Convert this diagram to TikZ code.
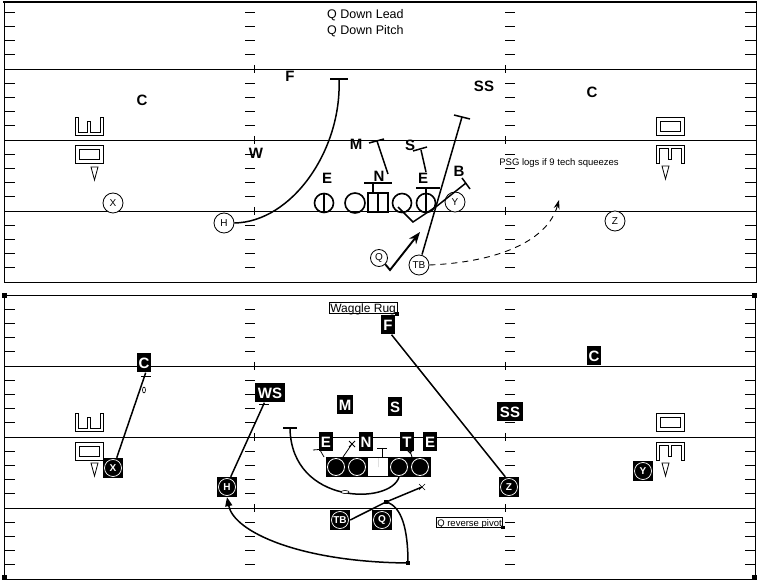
\documentclass[tikz,border=0pt]{standalone}
\usepackage{fontspec}
\setmainfont{Liberation Sans}
\usetikzlibrary{arrows.meta}
\newcommand\icU[2]{\draw[icn,shift={(#1,#2)}] (0,0)--(0,18)--(28,18)--(28,0)--(25,0)--(25,15)--(15.5,15)--(15.5,4)--(12.5,4)--(12.5,15)--(3,15)--(3,0)--cycle;}
\newcommand\icN[2]{\draw[icn,shift={(#1,#2)}] (0,18)--(0,0)--(28,0)--(28,18)--(25,18)--(25,3)--(15.5,3)--(15.5,14)--(12.5,14)--(12.5,3)--(3,3)--(3,18)--cycle;}
\newcommand\icR[2]{\draw[icn,shift={(#1,#2)}] (0,0) rectangle (28,18) (4,4) rectangle (24,14);}
\newcommand\icT[2]{\draw[icn,shift={(#1,#2)}] (0,0)--(7,0)--(3.5,13)--cycle;}
\newcommand\offb[3]{\node[sqb] (#1) at (#2) {}; \node[cirb] at (#2) {#3};}
\begin{document}
\begin{tikzpicture}[x=1pt,y=-1pt,
  fl/.style={line width=0.8pt},
  rt/.style={line width=1.5pt},
  icn/.style={line width=0.8pt},
  dt/.style={font=\fontsize{15}{15}\selectfont\bfseries, inner sep=0pt},
  oc/.style={circle, draw, line width=0.8pt, fill=white, minimum size=20pt, inner sep=0pt, font=\fontsize{10}{10}\selectfont},
  olc/.style={circle, draw, line width=1.6pt, minimum size=19pt, inner sep=0pt},
  db/.style={fill=black, text=white, font=\fontsize{15}{15}\selectfont\bfseries, inner xsep=2pt, inner ysep=0pt, minimum height=19pt},
  sqb/.style={fill=black, minimum size=20pt, inner sep=0pt},
  cirb/.style={circle, draw=white, line width=0.7pt, minimum size=17pt, inner sep=0pt, text=white, font=\fontsize{10}{10}\selectfont\bfseries},
  hb/.style={fill=black, minimum size=5pt, inner sep=0pt},
  tbox/.style={draw, fill=white, line width=0.6pt, inner sep=1pt}
]
\useasboundingbox (0,0) rectangle (761,585);
% ---------- fields ----------
\foreach \T in {-2,295} {
  \foreach \k in {1,2,3} {
    \draw[fl] (4,{\T+71*\k}) -- (756,{\T+71*\k});
    \draw[fl] (254,{\T+71*\k-4}) -- (254,{\T+71*\k+4});
    \draw[fl] (505,{\T+71*\k-4}) -- (505,{\T+71*\k+4});
  }
  \foreach \k in {1,2,3,4,6,7,8,9,11,12,13,14,16,17,18,19} {
    \draw[fl] (4,{\T+14.2*\k}) -- (15,{\T+14.2*\k})
              (245,{\T+14.2*\k}) -- (255,{\T+14.2*\k})
              (505,{\T+14.2*\k}) -- (515,{\T+14.2*\k})
              (745,{\T+14.2*\k}) -- (756,{\T+14.2*\k});
  }
}
\draw[line width=2pt] (3,2) -- (757,2);
\draw[fl] (4,2) -- (4,282) -- (756,282) -- (756,2);
\draw[fl] (4,295) rectangle (755,579);
\node[hb] (hA) at (4.5,295.5) {};
\node[hb] (hB) at (754.5,295.5) {};
\node[hb] (hC) at (4.5,577.5) {};
\node[hb] (hD) at (754.5,577.5) {};
% ---------- icons ----------
\icU{75}{117} \icR{75}{145} \icT{91}{167}
\icR{656}{117} \icN{656}{145} \icT{662}{166}
\icU{75}{413} \icR{75}{442} \icT{91}{463}
\icR{656}{413} \icN{656}{442} \icT{662}{463}
% ---------- top panel ----------
\node[anchor=north west, align=left, font=\fontsize{12.5}{16}\selectfont, inner sep=0pt] (title) at (327,9.5) {Q Down Lead\\Q Down Pitch};
\node[font=\fontsize{9.5}{9.5}\selectfont, inner sep=0pt] (psg) at (559,163) {PSG logs if 9 tech squeezes};
\node[dt] (tF) at (290,76) {F};
\node[dt] (tC1) at (142,100) {C};
\node[dt] (tW) at (256,153) {W};
\node[dt] (tE1) at (327,178) {E};
\node[dt] (tM) at (356,144) {M};
\node[dt] (tN) at (379,176) {N};
\node[dt] (tS) at (410,145) {S};
\node[dt] (tE2) at (423,178) {E};
\node[dt] (tB) at (459,171) {B};
\node[dt] (tSS) at (484,86) {SS};
\node[dt] (tC2) at (592,92) {C};
% offensive line
\node[olc] (tOL1) at (324,203) {};
\draw[line width=1.6pt] (tOL1.north) -- (tOL1.south);
\node[olc, minimum size=20pt] (tOL2) at (355,203) {};
\node[draw, line width=1.6pt, minimum width=20pt, minimum height=19pt, inner sep=0pt] (tOC) at (378,202.5) {};
\draw[line width=1.6pt] (tOC.north) -- (tOC.south);
\draw[rt] (364,183) -- (392,183) (373,183) -- (tOC.north -| 373,0);
\node[olc] (tOL4) at (402,203) {};
\node[olc] (tOL5) at (426,203) {};
\draw[line width=1.6pt] (tOL5.north) -- (tOL5.south);
\draw[rt] (416,188) -- (440,188) (426,188) -- (tOL5.north);
% backs
\node[oc] (tX) at (113,203) {X};
\node[oc] (tH) at (224,223) {H};
\node[oc, minimum size=17pt] (tQ) at (379,258) {Q};
\node[oc] (tTB) at (419,265) {TB};
\node[oc] (tY) at (455,202) {Y};
\node[oc] (tZ) at (615,221) {Z};
% routes
\coordinate (tFb) at (339,79);
\draw[rt] (tH.east) .. controls (292,222) and (342,150) .. (tFb);
\draw[rt] (330,79) -- (348,79);
\coordinate (tMs) at (388,174);
\coordinate (tMb) at (377,141);
\draw[rt] (tMs) -- (tMb);
\draw[rt] (369,143) -- (384,139);
\coordinate (tSs) at (426,172);
\coordinate (tSb) at (421,150);
\draw[rt] (tSs) -- (tSb);
\draw[rt] (413,151) -- (427,147);
\coordinate (tX1) at (413,222);
\coordinate (tX2) at (437,206);
\coordinate (tBb) at (466,183);
\draw[rt] (398,207) -- (tX1) -- (tX2) -- (tBb);
\draw[rt] (462,178) -- (470,189);
\coordinate (tTBb) at (462,117);
\draw[rt] (tTB.north) ++(3,0) -- (tTBb);
\draw[rt] (454,115) -- (470,119);
\coordinate (tQv) at (390,270);
\coordinate (tQa) at (420,232);
\draw[line width=1.9pt, -{Stealth[length=12pt,width=9pt]}] (tQ.-45) -- (tQv) -- (tQa);
\coordinate (tDa) at (559,200);
\draw[line width=0.9pt, dash pattern=on 6pt off 5pt, -{Stealth[length=9pt,width=6pt]}] (tTB.east) .. controls (500,262) and (548,240) .. (tDa);
% ---------- bottom panel ----------
\node[tbox, font=\fontsize{12}{12}\selectfont, anchor=west] (wag) at (329,308) {\raisebox{0pt}[9pt][0pt]{Waggle Rug}};
\node[hb, minimum size=3.5pt] (wagh) at (wag.south east) {};
\node[tbox, font=\fontsize{9.5}{9.5}\selectfont, anchor=west] (qrp) at (436,522.5) {\raisebox{0pt}[7.5pt][0pt]{Q reverse pivot}};
\node[hb, minimum size=3.5pt] (qrph) at (qrp.south east) {};
% defenders
\node[db] (bF) at (388,325) {F};
\node[db] (bC1) at (144,363) {C};
\node[db] (bC2) at (594,356) {C};
\node[db, inner xsep=3pt] (bWS) at (270,393) {WS};
\node[db] (bM) at (345,405) {M};
\node[db] (bS) at (395,407) {S};
\node[db, inner xsep=2.5pt] (bSS) at (510,412) {SS};
\node[db] (bE1) at (326,442) {E};
\node[db] (bN) at (366,442) {N};
\node[db] (bT) at (407,442) {T};
\node[db] (bE2) at (430,442) {E};
% offensive line
\node[sqb, minimum width=21pt] (bOL1) at (336,467) {};
\draw[white, line width=0.8pt] (bOL1) circle (8.5);
\node[sqb, minimum width=21pt] (bOL2) at (357,467) {};
\draw[white, line width=0.8pt] (bOL2) circle (8.5);
\node[draw, fill=white, line width=1pt, minimum width=21pt, minimum height=19pt, inner sep=0pt] (bOC) at (378,467) {};
\fill (bOC.north) rectangle (bOC.center);
\node[sqb, minimum width=21pt] (bOL4) at (399,467) {};
\draw[white, line width=0.8pt] (bOL4) circle (8.5);
\node[sqb, minimum width=21pt] (bOL5) at (420,467) {};
\draw[white, line width=0.8pt] (bOL5) circle (8.5);
% offensive backs
\offb{bX}{113,468}{X}
\offb{bH}{227,487}{H}
\offb{bTB}{340,520}{TB}
\offb{bQ}{382,520}{Q}
\offb{bZ}{509,487}{Z}
\offb{bY}{643,471}{Y}
% routes
\draw[rt] (bC1.-80) -- (bX.70);
\draw[line width=0.8pt] (141,376) -- (151,376);
\draw[line width=0.6pt, fill=white] (144,390) ellipse (1.5 and 3);
\draw[rt] (bWS.-120) -- (bH.70);
\draw[line width=0.8pt] (259,404) -- (269,404);
\draw[rt] (bF.-70) -- (bZ.110);
\coordinate (bEb) at (290,429);
\draw[rt] (283,428) -- (297,428);
\draw[rt] (bEb) .. controls (292,505) and (390,505) .. (bOL4.south);
\draw[line width=0.6pt, fill=white] (345,492) ellipse (4 and 1.5);
\coordinate (bQp) at (386,502);
\coordinate (bQx) at (422,487);
\draw[rt] (bTB.east) -- (bQp) -- (bQx);
\draw[line width=0.7pt] (419,484) -- (425,490) (419,490) -- (425,484);
\coordinate (bQc) at (408,563);
\draw[rt] (bQp) .. controls (402,506) and (408,530) .. (bQc);
\draw[rt, -{Triangle[length=9pt,width=7pt]}] (bQc) .. controls (300,562) and (234,532) .. (bH.south);
\node[hb, minimum size=4pt] (bQch) at (bQc) {};
\node[hb, minimum size=4pt] (bQph) at (bQp) {};
% small blocking marks on the line
\draw[line width=0.8pt] (320,450) -- (324,457) (313,450) -- (325,449);
\draw[line width=0.8pt] (343,457) -- (352,444) (349,441) -- (355,447) (349,447) -- (355,441);
\draw[line width=0.8pt] (377,448) -- (387,448) (382,448) -- (382,457);
\draw[line width=0.8pt] (410,451) -- (412,457) (407,450) -- (410,447) -- (413,450) -- (410,453) -- cycle;
\end{tikzpicture}
\end{document}
